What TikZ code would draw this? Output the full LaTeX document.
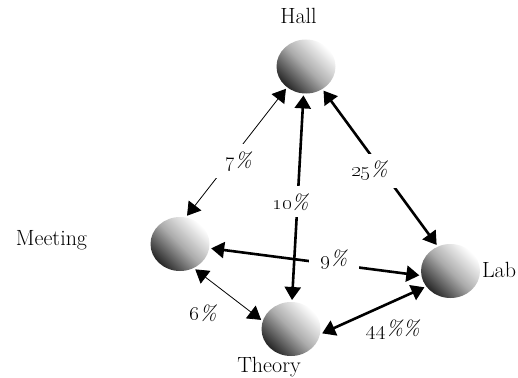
\documentclass[tikz,border=0pt]{standalone}
\usetikzlibrary{arrows.meta, shapes.geometric}

\begin{document}
\begin{tikzpicture}[x=1pt, y=-1pt, >={Triangle[length=13pt,width=16pt]},
  ball/.style={ellipse, minimum width=59pt, minimum height=54pt, inner sep=0pt, outer sep=2pt,
    top color=white, bottom color=black!85, middle color=gray!65, shading angle=-45},
  place/.style={anchor=base, font=\fontsize{22}{26}\selectfont},
  pct/.style={font=\fontsize{21}{25}\selectfont\itshape},
  gap/.style={pct, fill=white, inner xsep=12pt, inner ysep=7pt},
  heavy/.style={<->, line width=2.6pt},
  light/.style={<->, line width=0.8pt}]
\useasboundingbox (0,0) rectangle (518,377);
% balls
\node[ball] (hall) at (306,66.5) {};
\node[ball] (meeting) at (180,244) {};
\node[ball] (lab) at (450.5,271) {};
\node[ball] (theory) at (291,329) {};
% names
\node[place] (hallname) at (298.5,24) {Hall};
\node[place] (meetingname) at (51.5,245.7) {Meeting};
\node[place] (labname) at (499,277.7) {Lab};
\node[place] (theoryname) at (269,372) {Theory};
% links
\draw[light] (meeting.76) -- node[gap, pos=.43, xshift=9pt] {\oldstylenums{7}\%} (hall.228);
\draw[heavy] (hall.265) -- node[gap, pos=.52, xshift=-7pt] {\oldstylenums{10}\%} (theory.88);
\draw[heavy] (hall.306) -- node[gap, pos=.52, xshift=-13pt] {\oldstylenums{25}\%} (lab.118);
\draw[heavy] (meeting.352) -- node[gap, pos=.59, yshift=5pt] {\oldstylenums{9}\%} (lab.188);
\draw[light] (meeting.301) -- node[pct, pos=.5, xshift=-25pt, yshift=-19pt] {\oldstylenums{6}\%} (theory.163);
\draw[heavy] (theory.352) -- node[pct, pos=.5, xshift=20pt, yshift=-19pt] {\oldstylenums{44}\%\%} (lab.212);
\end{tikzpicture}
\end{document}
